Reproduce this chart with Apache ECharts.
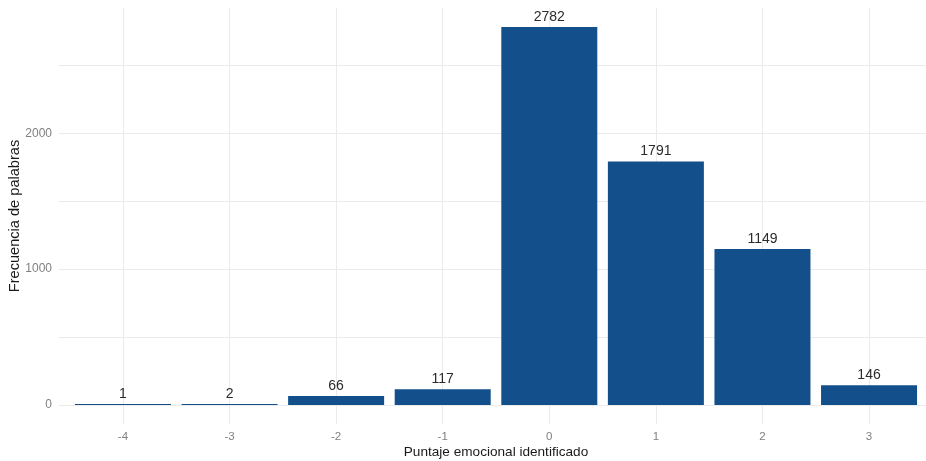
<!DOCTYPE html>
<html>
<head>
<meta charset="utf-8">
<script src="https://cdn.jsdelivr.net/npm/echarts@6/dist/echarts.min.js"></script>
<style>
html,body{margin:0;padding:0;background:#fff;}
#chart{width:926px;height:461px;}
</style>
</head>
<body>
<div id="chart"></div>
<script>
var categories = [-4, -3, -2, -1, 0, 1, 2, 3];
var counts = [1, 2, 66, 117, 2782, 1791, 1149, 146];
var yTickValues = [0, 500, 1000, 1500, 2000, 2500];
var yLabelValues = [0, 1000, 2000];

var yMax = Math.max.apply(null, counts) * 1.05;
var yMin = -Math.max.apply(null, counts) * 0.05;

var chart = echarts.init(document.getElementById('chart'), null, {renderer: 'canvas'});
var font = 'Liberation Sans, Arial, sans-serif';
chart.setOption({
  animation: false,
  grid: {left: 59, right: -7, top: 8, bottom: 37, containLabel: false, outerBoundsMode: 'none'},
  xAxis: {
    type: 'value',
    min: categories[0] - 0.6,
    max: categories[categories.length - 1] + 0.6,
    name: 'Puntaje emocional identificado',
    nameLocation: 'middle',
    nameGap: 21,
    nameMoveOverlap: false,
    nameTextStyle: {color: '#1a1a1a', fontSize: 13.6, fontFamily: font},
    axisLine: {show: false},
    axisTick: {show: false, customValues: categories},
    axisLabel: {customValues: categories, color: '#808080', fontSize: 11.5, fontFamily: font, margin: 7,
      formatter: function (v) { return String(v); }},
    splitLine: {show: true, lineStyle: {color: '#ebebeb', width: 1}}
  },
  yAxis: {
    type: 'value',
    min: yMin,
    max: yMax,
    name: 'Frecuencia de palabras',
    nameLocation: 'middle',
    nameGap: 37,
    nameMoveOverlap: false,
    nameTextStyle: {color: '#1a1a1a', fontSize: 14.6, fontFamily: font},
    axisLine: {show: false},
    axisTick: {show: false, customValues: yTickValues},
    axisLabel: {customValues: yLabelValues, color: '#808080', fontSize: 12, fontFamily: font, margin: 7,
      formatter: function (v) { return String(v); }},
    splitLine: {show: true, lineStyle: {color: '#ebebeb', width: 1}}
  },
  series: [{
    type: 'bar',
    barWidth: 96,
    barMinHeight: 1,
    data: categories.map(function (c, i) { return [c, counts[i]]; }),
    itemStyle: {color: '#134f8a'},
    label: {
      show: true,
      position: 'top',
      distance: 3,
      color: '#2b2b2b',
      fontSize: 14,
      fontFamily: font,
      formatter: function (p) { return p.value[1]; }
    }
  }]
});
</script>
</body>
</html>
